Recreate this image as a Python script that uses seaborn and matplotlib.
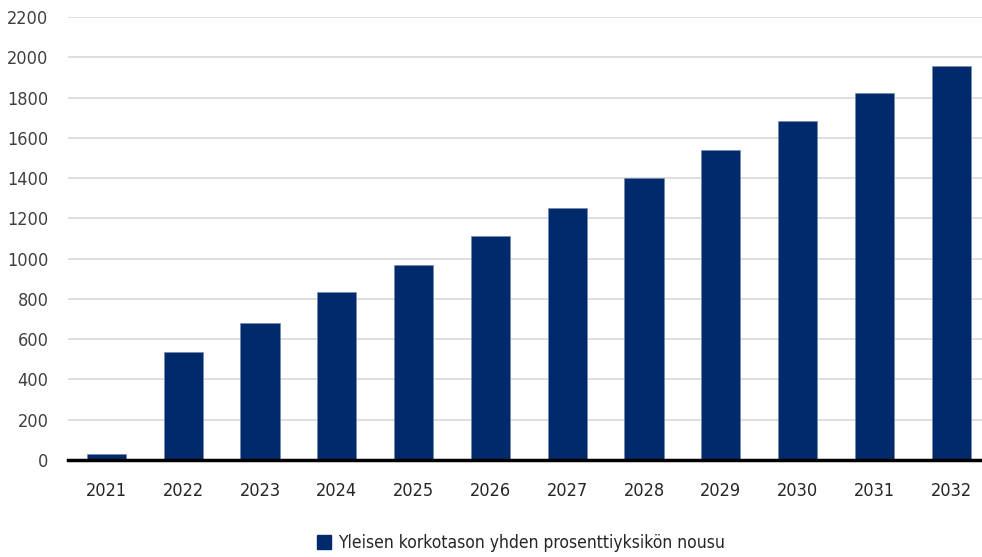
import matplotlib
matplotlib.use("Agg")
import matplotlib.pyplot as plt
import seaborn as sns
import pandas as pd
from matplotlib.patches import Patch

years = ["2021", "2022", "2023", "2024", "2025", "2026", "2027", "2028", "2029", "2030", "2031", "2032"]
values = [30, 535, 680, 835, 967, 1112, 1250, 1400, 1540, 1683, 1824, 1955]
yticks = [0, 200, 400, 600, 800, 1000, 1200, 1400, 1600, 1800, 2000, 2200]
series_name = "Yleisen korkotason yhden prosenttiyksikön nousu"

sns.set_theme(style="white")
plt.rcParams['font.family'] = ['DejaVu Sans']
plt.rcParams['font.stretch'] = 'condensed'

df = pd.DataFrame({"year": years, "value": values})
W, H = 982, 557
fig = plt.figure(figsize=(W / 100, H / 100), dpi=100)
ax = fig.add_axes([68 / W, (H - 460) / H, (982 - 68) / W, (460 - 17) / H])

color = "#002a6c"
sns.barplot(data=df, x="year", y="value", color=color, width=0.51, ax=ax,
            saturation=1, edgecolor="#6f87ad", linewidth=0.4, zorder=3)

ax.set_ylim(0, 2200)
ax.set_xlim(-0.5, 11.4)
ax.set_yticks(yticks)
ax.set_yticklabels([str(t) for t in yticks])
ax.yaxis.grid(True, color="#d9d9d9", linewidth=1.2, zorder=0)
ax.set_axisbelow(True)
for s in ["top", "right", "left"]:
    ax.spines[s].set_visible(False)
ax.spines["bottom"].set_color("black")
ax.spines["bottom"].set_linewidth(2.5)
ax.spines["bottom"].set_zorder(5)
ax.tick_params(axis="y", length=0, pad=14, labelsize=13, labelcolor="#404040")
ax.tick_params(axis="x", length=0, pad=16, labelsize=13, labelcolor="#262626")
ax.set_xlabel("")
ax.set_ylabel("")

handles = [Patch(facecolor=color, edgecolor=color, label=series_name)]
fig.legend(handles=handles, loc="center", bbox_to_anchor=(521 / W, 1 - 543 / H),
           frameon=False, fontsize=12.5, handlelength=0.85, handleheight=0.85,
           handletextpad=0.4, labelcolor="#262626")

fig.savefig("out.png", dpi=100)
